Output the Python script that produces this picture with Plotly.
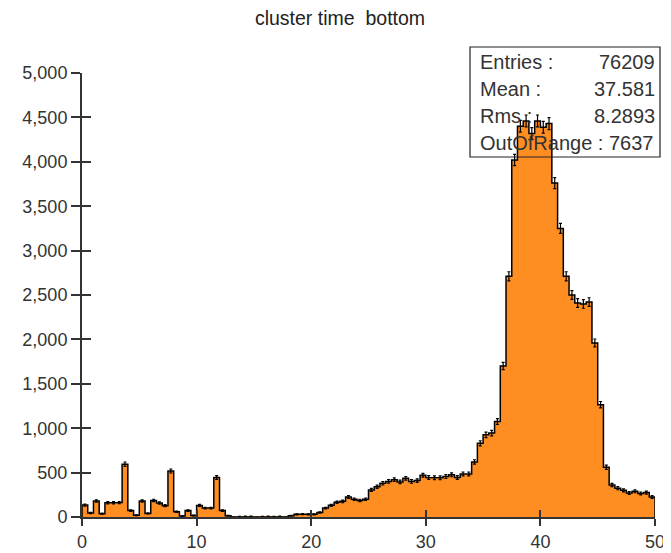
import numpy as np
import plotly.graph_objects as go

# ---- histogram definition ----
BIN_LO = 0.0
BIN_HI = 50.0
N_BINS = 100

# bin contents, bins of 0.5 from 0 to 50
counts = [
    135, 45, 180, 38, 160, 160, 162, 595, 72, 20,
    180, 40, 186, 158, 128, 518, 60, 10, 72, 18,
    130, 100, 100, 445, 72, 15, 0, 6, 8, 8,
    0, 6, 8, 6, 8, 0, 15, 30, 32, 30,
    30, 50, 100, 131, 165, 176, 225, 200, 186, 200,
    305, 340, 380, 400, 420, 395, 435, 400, 410, 470,
    445, 443, 443, 455, 475, 445, 485, 485, 620, 830,
    925, 945, 1075, 1700, 2710, 4020, 4400, 4460, 4320, 4460,
    4390, 4430, 3760, 3250, 2710, 2500, 2410, 2400, 2420, 1960,
    1265, 560, 360, 325, 300, 270, 290, 265, 275, 225,
]

title_text = "cluster time  bottom"
stat_labels = ["Entries :", "Mean :", "Rms :"]
stat_values = ["76209", "37.581", "8.2893"]
stat_last = "OutOfRange : 7637"

x_ticks = [0, 10, 20, 30, 40, 50]
y_ticks = [0, 500, 1000, 1500, 2000, 2500, 3000, 3500, 4000, 4500, 5000]

# ---- derived geometry ----
counts = np.array(counts, dtype=float)
bw = (BIN_HI - BIN_LO) / N_BINS
edges = BIN_LO + np.arange(N_BINS + 1) * bw
centers = edges[:-1] + bw / 2

step_x = [edges[0]]
step_y = [0.0]
for i in range(N_BINS):
    step_x += [edges[i], edges[i + 1]]
    step_y += [counts[i], counts[i]]
step_x.append(edges[-1])
step_y.append(0.0)

ORANGE = "#FF8E22"
FONT = "Liberation Sans, Arial, sans-serif"
TXT = "#333333"

# the page body adds an 8px offset; the figure is sized to compensate
OFF = 8
W, H = 671 - OFF, 553 - OFF

fig = go.Figure()
fig.add_trace(go.Bar(x=centers, y=counts, width=bw, marker=dict(color=ORANGE, line=dict(width=0)),
                     hoverinfo="skip", showlegend=False))
fig.add_trace(go.Scatter(x=step_x, y=step_y, mode="lines", line=dict(color="black", width=1.5),
                         hoverinfo="skip", showlegend=False))
fig.add_trace(go.Scatter(x=centers, y=counts, mode="markers", marker=dict(size=0.1, color="black"),
                         error_y=dict(type="data", array=np.sqrt(counts), color="black",
                                      thickness=1.2, width=1.5),
                         hoverinfo="skip", showlegend=False))
# invisible trace for the overlay axes (inner tick halves)
fig.add_trace(go.Scatter(x=[BIN_LO], y=[0], xaxis="x2", yaxis="y2", mode="markers",
                         marker=dict(opacity=0), hoverinfo="skip", showlegend=False))

axis_common = dict(showgrid=False, zeroline=False, tickcolor="#333333", tickwidth=1.5)

fig.update_layout(
    width=W, height=H,
    margin=dict(l=82 - OFF, r=16, t=73 - OFF, b=36, autoexpand=False),
    paper_bgcolor="white", plot_bgcolor="white",
    bargap=0,
    font=dict(family=FONT, color=TXT, size=18),
    title=dict(text=title_text, x=(340 - OFF) / W, xanchor="center", y=1 - (18 - OFF) / H,
               yanchor="middle", font=dict(family=FONT, size=19.5, color="#222222")),
    xaxis=dict(range=[BIN_LO, BIN_HI], tickvals=x_ticks, ticks="outside", ticklen=7,
               showline=True, linecolor="#333333", linewidth=2, tickfont=dict(size=18),
               **axis_common),
    yaxis=dict(range=[0, 5000], tickvals=y_ticks, tickformat=",d", ticks="outside", ticklen=9,
               showline=True, linecolor="#333333", linewidth=2, tickfont=dict(size=18),
               ticklabelstandoff=0, **axis_common),
    xaxis2=dict(range=[BIN_LO, BIN_HI], tickvals=x_ticks, ticks="inside", ticklen=7,
                overlaying="x", anchor="y2", side="bottom", showticklabels=False,
                showline=False, **axis_common),
    yaxis2=dict(range=[0, 5000], tickvals=y_ticks, ticks="inside", ticklen=9,
                overlaying="y", anchor="x2", side="left", showticklabels=False,
                showline=False, **axis_common),
)

# ---- statistics box ----
def px_x(p):
    return (p - 82) / (655 - 82)

def px_y(p):
    return (517 - p) / (517 - 73)

fig.add_shape(type="rect", xref="paper", yref="paper",
              x0=px_x(470), x1=px_x(660), y0=px_y(157), y1=px_y(47),
              line=dict(color="#222222", width=1.2), fillcolor="rgba(0,0,0,0)", layer="above")
row_y = [62, 89, 116]
for lab, val, ry in zip(stat_labels, stat_values, row_y):
    fig.add_annotation(xref="paper", yref="paper", x=px_x(478), y=px_y(ry), text=lab,
                       showarrow=False, xanchor="left", yanchor="middle",
                       font=dict(family=FONT, size=20, color=TXT))
    fig.add_annotation(xref="paper", yref="paper", x=px_x(657), y=px_y(ry), text=val,
                       showarrow=False, xanchor="right", yanchor="middle",
                       font=dict(family=FONT, size=20, color=TXT))
fig.add_annotation(xref="paper", yref="paper", x=px_x(478), y=px_y(143), text=stat_last,
                   showarrow=False, xanchor="left", yanchor="middle",
                   font=dict(family=FONT, size=20, color=TXT))

fig.write_html("out.html")
